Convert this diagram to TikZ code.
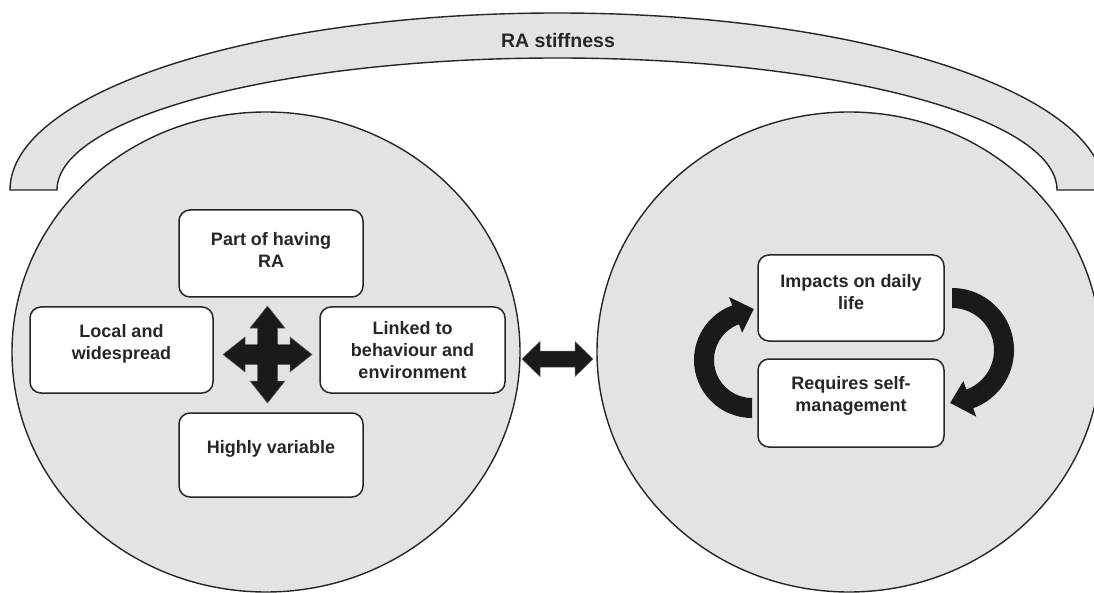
\documentclass[tikz,border=0pt]{standalone}
\usepackage{fontspec}
\setmainfont{Liberation Sans}
\usetikzlibrary{shapes.geometric}
\definecolor{bg}{HTML}{E3E3E3}
\definecolor{ink}{HTML}{262626}
\definecolor{fatc}{HTML}{1A1A1A}
\begin{document}
\begin{tikzpicture}[x=1pt,y=-1pt,
  blob/.style={ellipse, draw=ink, line width=1.4pt, fill=bg, inner sep=0pt},
  card/.style={draw=ink, line width=1.5pt, fill=white, rounded corners=11pt, inner sep=0pt},
  txt/.style={font=\fontsize{18}{22}\selectfont\bfseries, text=ink, align=center},
  fatfill/.style={fill=fatc, draw=fatc!70, line width=0.5pt, line join=miter}
]
\useasboundingbox (0,0) rectangle (1094,593);
\fill[white] (0,0) rectangle (1094,593);

% arch
\filldraw[fill=bg, draw=ink, line width=1.4pt] (10,190)
  arc[start angle=180, end angle=360, x radius=547, y radius=177] -- (1057,190)
  arc[start angle=0, end angle=-180, x radius=500, y radius=132] -- cycle;
\node[txt, font=\fontsize{19.5}{22}\selectfont\bfseries] (ttl) at (558,41) {RA stiffness};

% circles
\node[blob, minimum width=508pt, minimum height=480pt] (lc) at (266,352) {};
\node[blob, minimum width=504pt, minimum height=480pt] (rc) at (849,352) {};

% left cards
\node[card, minimum width=184pt, minimum height=87pt] (part) at (271,253.5) {};
\node[txt] (partT) at ([yshift=4pt]part.center) {Part of having\\RA};
\node[card, minimum width=183pt, minimum height=86pt] (loc) at (121.5,350) {};
\node[txt] (locT) at ([yshift=6pt]loc.center) {Local and\\widespread};
\node[card, minimum width=185pt, minimum height=86pt] (lnk) at (412.5,350) {};
\node[txt] (lnkT) at (lnk.center) {Linked to\\behaviour and\\environment};
\node[card, minimum width=184pt, minimum height=84pt] (high) at (271,455) {};
\node[txt] (highT) at ([yshift=6pt]high.center) {Highly variable};

% four-way arrow
\coordinate (hub) at (267.5,354.5);
\filldraw[fatfill, shift={(hub)}]
  (-44.5,0) -- (-22.5,-17.5) -- (-22.5,-10) -- (22.5,-10) -- (22.5,-17.5) -- (44.5,0)
  -- (22.5,17.5) -- (22.5,10) -- (-22.5,10) -- (-22.5,17.5) -- cycle;
\filldraw[fatfill, shift={(hub)}]
  (0,-48.5) -- (17.5,-26.5) -- (10,-26.5) -- (10,26.5) -- (17.5,26.5) -- (0,48.5)
  -- (-17.5,26.5) -- (-10,26.5) -- (-10,-26.5) -- (-17.5,-26.5) -- cycle;
\fill[fatc, shift={(hub)}] (-10.5,-10.5) rectangle (10.5,10.5);

% double arrow between circles
\coordinate (link) at (557.5,359);
\filldraw[fatfill, shift={(link)}]
  (-35.5,0) -- (-17.5,-17.5) -- (-17.5,-8) -- (17.5,-8) -- (17.5,-17.5) -- (35.5,0)
  -- (17.5,17.5) -- (17.5,8) -- (-17.5,8) -- (-17.5,17.5) -- cycle;

% right cards
\node[card, minimum width=186pt, minimum height=86pt] (imp) at (851,298) {};
\node[txt] (impT) at ([yshift=6pt]imp.center) {Impacts on daily\\life};
\node[card, minimum width=186pt, minimum height=88pt] (req) at (851,403) {};
\node[txt] (reqT) at ([yshift=7pt]req.center) {Requires self-\\management};

% cycle arrows
\fill[fatc, shift={(752,360)}] (90:58) arc[start angle=90, end angle=250, radius=58]
  -- (250:67) -- (272:51) -- (250:29) -- (250:38)
  arc[start angle=250, end angle=90, radius=38] -- cycle;
\fill[fatc, shift={(952,350)}] (-90:62) arc[start angle=-90, end angle=70, radius=62]
  -- (70:71) -- (92:53) -- (70:33) -- (70:42)
  arc[start angle=70, end angle=-90, radius=42] -- cycle;
\end{tikzpicture}
\end{document}
